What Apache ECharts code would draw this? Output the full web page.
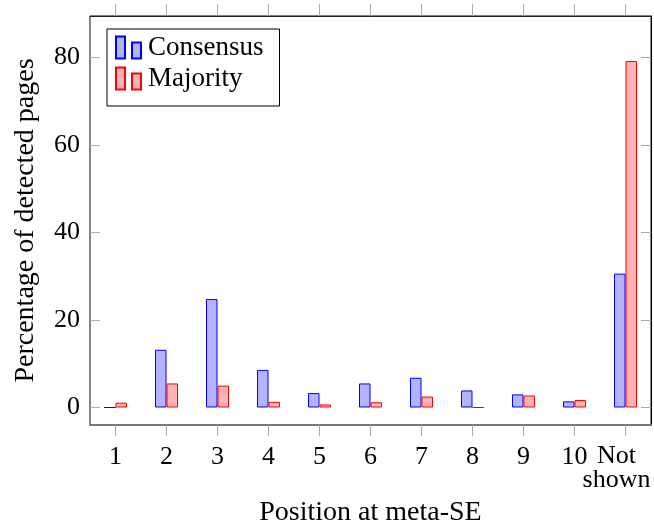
<!DOCTYPE html>
<html>
<head>
<meta charset="utf-8">
<script src="https://cdn.jsdelivr.net/npm/echarts@6/dist/echarts.min.js"></script>
<style>
html,body{margin:0;padding:0;background:#fff;}
#chart{width:654px;height:525px;}
</style>
</head>
<body>
<div id="chart"></div>
<script>
var categories = ['1','2','3','4','5','6','7','8','9','10','Not\nshown'];
var consensus = [0, 13.2, 24.8, 8.6, 3.3, 5.5, 6.8, 3.9, 3.0, 1.4, 30.6];
var majority  = [1.1, 5.5, 5.0, 1.3, 0.7, 1.2, 2.5, 0, 2.75, 1.7, 79.2];
var yTicks = [0, 20, 40, 60, 80];

var FONT = 'Liberation Serif';
var chart = echarts.init(document.getElementById('chart'), null, {renderer:'canvas'});
var tickColor = '#aaaaaa';
chart.setOption({
  animation: false,
  backgroundColor: '#fff',
  textStyle: {fontFamily: FONT, color: '#000'},
  grid: {left: 90, right: 3, top: 16, bottom: 100, containLabel: false, outerBoundsMode: 'none',
         show: true, borderColor: '#000', borderWidth: 1, backgroundColor: 'transparent'},
  legend: {
    orient: 'vertical', left: 107, top: 29,
    padding: [5, 16, 14, 8],
    borderColor: '#000', borderWidth: 1,
    itemWidth: 25, itemHeight: 22, itemGap: 4,
    icon: 'path://M0,0h9v22h-9z M16,6h9v16h-9z',
    textStyle: {fontFamily: FONT, fontSize: 27, color: '#000', padding: [0,0,0,2]},
    data: ['Consensus', 'Majority']
  },
  xAxis: [{
    type: 'category', data: categories, position: 'bottom',
    name: 'Position at meta-SE', nameLocation: 'middle', nameGap: 74,
    nameTextStyle: {fontFamily: FONT, fontSize: 28, color: '#000'},
    axisLine: {show: true, onZero: false, lineStyle: {color: '#777', width: 2}},
    axisTick: {show: true, alignWithLabel: true, inside: false, length: 11, lineStyle: {color: tickColor, width: 1}},
    axisLabel: {
      fontFamily: FONT, fontSize: 26, color: '#000', margin: 19, interval: 0,
      formatter: function (v) {
        if (v.indexOf('\n') >= 0) {
          var p = v.split('\n');
          return '{r|' + p[0] + '}\n{r|' + p[1] + '}';
        }
        return v;
      },
      rich: {r: {fontFamily: FONT, fontSize: 26, color: '#000', lineHeight: 24, padding: [0, 18, 0, 0]}}
    },
    splitLine: {show: false}
  }, {
    type: 'category', data: categories, position: 'top',
    axisLine: {show: true, onZero: false, lineStyle: {color: '#222', width: 1}},
    axisTick: {show: true, alignWithLabel: true, inside: false, length: 12, lineStyle: {color: tickColor, width: 1}},
    axisLabel: {show: false},
    splitLine: {show: false}
  }],
  yAxis: [{
    type: 'value', min: -4, max: 89.5, position: 'left',
    name: 'Percentage of detected pages', nameLocation: 'middle', nameGap: 50, nameRotate: 90,
    nameTextStyle: {fontFamily: FONT, fontSize: 28, color: '#000'},
    axisLine: {show: true, onZero: false, lineStyle: {color: '#888', width: 1}},
    axisTick: {show: true, inside: true, length: 10, customValues: yTicks, lineStyle: {color: tickColor}},
    axisLabel: {fontFamily: FONT, fontSize: 26, color: '#000', margin: 10, customValues: yTicks},
    splitLine: {show: false}
  }, {
    type: 'value', min: -4, max: 89.5, position: 'right',
    axisLine: {show: true, onZero: false, lineStyle: {color: '#000', width: 1}},
    axisTick: {show: true, inside: true, length: 10, customValues: yTicks, lineStyle: {color: tickColor}},
    axisLabel: {show: false, customValues: yTicks},
    splitLine: {show: false}
  }],
  series: [{
    name: 'Consensus', type: 'bar', data: consensus, xAxisIndex: 0, yAxisIndex: 0,
    barWidth: 11.5, barGap: '0%',
    itemStyle: {color: 'rgb(179,179,255)', borderColor: '#0000ff', borderWidth: 1}
  }, {
    name: 'Majority', type: 'bar', data: majority, xAxisIndex: 0, yAxisIndex: 0,
    barWidth: 11.5, barGap: '0%',
    itemStyle: {color: 'rgb(255,179,179)', borderColor: '#ff0000', borderWidth: 1}
  }]
});
</script>
</body>
</html>
